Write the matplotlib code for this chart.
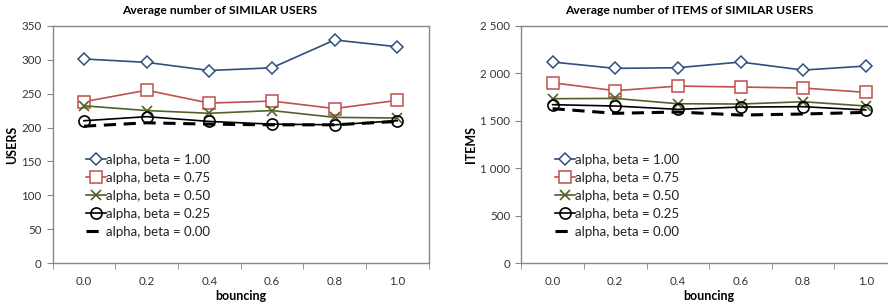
import numpy as np
import matplotlib.pyplot as plt
from matplotlib.ticker import FixedLocator

plt.rcParams['font.family'] = ['Lato', 'DejaVu Sans']

bouncing = [0.0, 0.2, 0.4, 0.6, 0.8, 1.0]
labels = ['alpha, beta = 1.00', 'alpha, beta = 0.75', 'alpha, beta = 0.50',
          'alpha, beta = 0.25', 'alpha, beta = 0.00']

# average number of similar users
users_100 = [301, 296, 284, 288, 329, 319]
users_075 = [238, 255, 236, 239, 228, 240]
users_050 = [232, 225, 221, 225, 215, 214]
users_025 = [210, 216, 209, 205, 204, 210]
users_000 = [202, 207, 205, 204, 204, 209]

# average number of items of similar users
items_100 = [2118, 2051, 2058, 2118, 2033, 2076]
items_075 = [1900, 1816, 1865, 1855, 1844, 1799]
items_050 = [1732, 1735, 1679, 1676, 1700, 1655]
items_025 = [1669, 1655, 1620, 1644, 1648, 1613]
items_000 = [1627, 1578, 1592, 1560, 1571, 1588]

styles = [
    dict(color='#2F4F7F', marker='D', markersize=6, mfc='white', mew=1.1, lw=1.2),
    dict(color='#C0504D', marker='s', markersize=8, mfc='white', mew=1.1, lw=1.2),
    dict(color='#4F6228', marker='x', markersize=7, mew=1.2, lw=1.2),
    dict(color='black', marker='o', markersize=8, mfc='none', mew=1.2, lw=1.2),
    dict(color='black', lw=2.2, ls=(0, (4, 2.5))),
]

fig = plt.figure(figsize=(8.88, 3.05), dpi=100)
ax1 = fig.add_axes([0.0593, 0.1367, 0.4233, 0.779])
ax2 = fig.add_axes([0.587, 0.1367, 0.4233, 0.779])

def draw(ax, series, ymax, ystep, yticklabels, ylabel):
    for s, lab, st in zip(series, labels, styles):
        ax.plot(bouncing, s, label=lab, **st)
    ax.set_xlim(-0.1, 1.1)
    ax.set_ylim(0, ymax)
    ax.set_xticks(bouncing)
    ax.set_xticklabels(['%.1f' % b for b in bouncing])
    ax.xaxis.set_minor_locator(FixedLocator(np.arange(-0.1, 1.15, 0.2)))
    ax.tick_params(axis='x', which='major', length=0, pad=9)
    ax.tick_params(axis='x', which='minor', length=4, direction='out', color='#888888')
    ax.set_yticks(np.arange(0, ymax + 1, ystep))
    ax.set_yticklabels(yticklabels)
    ax.tick_params(axis='y', length=4, direction='out', color='#888888', pad=4)
    ax.tick_params(labelsize=8.3, labelcolor='#333333')
    for sp in ax.spines.values():
        sp.set_color('#888888')
        sp.set_linewidth(1.0)
    ax.set_xlabel('bouncing', fontsize=9, fontweight='bold', labelpad=2)
    ax.set_ylabel(ylabel, fontsize=9, fontweight='bold', labelpad=2)
    leg = ax.legend(loc='upper left', bbox_to_anchor=(0.075, 0.483), frameon=False,
                    fontsize=9.5, handlelength=1.5, handletextpad=0.0,
                    labelspacing=0.45, borderaxespad=0)
    for t in leg.get_texts():
        t.set_color('#222222')

draw(ax1, [users_100, users_075, users_050, users_025, users_000], 350, 50,
     [str(v) for v in range(0, 351, 50)], 'USERS')
draw(ax2, [items_100, items_075, items_050, items_025, items_000], 2500, 500,
     ['0', '500', '1 000', '1 500', '2 000', '2 500'], 'ITEMS')

fig.text(220 / 888, 1 - 11 / 305, 'Average number of SIMILAR USERS',
         ha='center', va='center', fontsize=8.7, fontweight='bold')
fig.text(689 / 888, 1 - 11 / 305, 'Average number of ITEMS of SIMILAR USERS',
         ha='center', va='center', fontsize=8.7, fontweight='bold')

fig.savefig('out.png', dpi=100)
